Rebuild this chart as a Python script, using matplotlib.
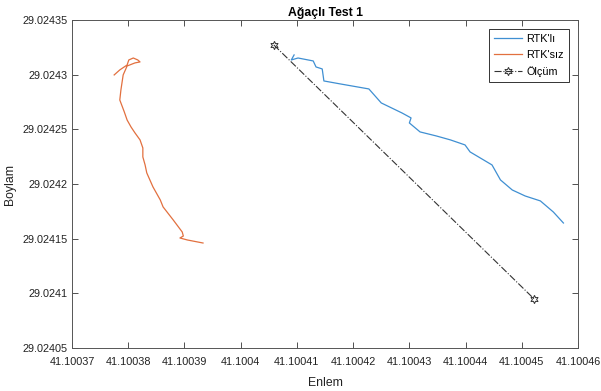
import matplotlib
matplotlib.use("Agg")
import matplotlib.pyplot as plt
from matplotlib.ticker import FuncFormatter, MultipleLocator

plt.rcParams["font.family"] = ["Liberation Sans", "DejaVu Sans"]

# RTK'lı iz
rtk_enlem = [41.1004095, 41.1004090, 41.1004102, 41.1004129, 41.1004134, 41.1004145,
             41.1004148, 41.1004177, 41.1004228, 41.1004250, 41.1004287, 41.1004303,
             41.1004300, 41.1004319, 41.1004348, 41.1004373, 41.1004399, 41.1004408,
             41.1004447, 41.1004462, 41.1004483, 41.1004506, 41.1004533, 41.1004556,
             41.1004574]
rtk_boylam = [29.0243180, 29.0243134, 29.0243152, 29.0243125, 29.0243070, 29.0243052,
              29.0242942, 29.0242915, 29.0242869, 29.0242741, 29.0242649, 29.0242604,
              29.0242558, 29.0242476, 29.0242439, 29.0242403, 29.0242357, 29.0242293,
              29.0242174, 29.0242037, 29.0241945, 29.0241890, 29.0241845, 29.0241744,
              29.0241643]

# RTK'sız iz
nortk_enlem = [41.1003775, 41.1003785, 41.1003798, 41.1003801, 41.1003809, 41.1003817,
               41.1003821, 41.1003812, 41.1003798, 41.1003791, 41.1003787, 41.1003785,
               41.1003793, 41.1003798, 41.1003805, 41.1003812, 41.1003821, 41.1003826,
               41.1003826, 41.1003830, 41.1003833, 41.1003844, 41.1003857, 41.1003862,
               41.1003880, 41.1003896, 41.1003898, 41.1003892, 41.1003905, 41.1003933]
nortk_boylam = [29.0242997, 29.0243043, 29.0243088, 29.0243134, 29.0243152, 29.0243134,
                29.0243116, 29.0243107, 29.0243079, 29.0242997, 29.0242860, 29.0242768,
                29.0242659, 29.0242585, 29.0242521, 29.0242467, 29.0242403, 29.0242329,
                29.0242247, 29.0242174, 29.0242101, 29.0241973, 29.0241854, 29.0241790,
                29.0241671, 29.0241561, 29.0241524, 29.0241506, 29.0241488, 29.0241460]

# Ölçüm (başlangıç ve bitiş)
olcum_enlem = [41.1004059, 41.1004522]
olcum_boylam = [29.0243271, 29.0240948]

MAVI, TURUNCU = "#3f8fd2", "#e2703f"


def fmt(v, _pos):
    s = "%.5f" % v
    return s.rstrip("0").rstrip(".")


fig = plt.figure(figsize=(6.01, 3.91), dpi=100)
ax = fig.add_axes([0.1198, 0.110, 0.842, 0.839])

ax.plot(rtk_enlem, rtk_boylam, color=MAVI, lw=0.9, label="RTK'lı")
ax.plot(nortk_enlem, nortk_boylam, color=TURUNCU, lw=0.9, label="RTK'sız")
ax.plot(olcum_enlem, olcum_boylam, color="#333333", ls="-.", lw=0.8,
        marker=(6, 1, 0), ms=6, mfc="none", mec="#333333", mew=0.7, label="Ölçüm")

ax.set_xlim(41.10037, 41.10046)
ax.set_ylim(29.02405, 29.02435)
ax.xaxis.set_major_locator(MultipleLocator(1e-5))
ax.yaxis.set_major_locator(MultipleLocator(5e-5))
ax.xaxis.set_major_formatter(FuncFormatter(fmt))
ax.yaxis.set_major_formatter(FuncFormatter(fmt))
ax.tick_params(direction="in", top=True, right=True, length=4, width=0.6,
               colors="#333333", labelsize=7.8, labelcolor="#222222")
ax.tick_params(axis="x", pad=6.5)
ax.tick_params(axis="y", pad=3)
for s in ax.spines.values():
    s.set_color("#555555")
    s.set_linewidth(0.7)

ax.set_xlabel("Enlem", fontsize=8.8, color="#222222", labelpad=7)
ax.set_ylabel("Boylam", fontsize=8.8, color="#222222", labelpad=5)
ax.set_title("Ağaçlı Test 1", fontsize=8.8, fontweight="bold", pad=3)

leg = ax.legend(loc="upper right", fontsize=7.8, fancybox=False, framealpha=1,
                edgecolor="#333333", handlelength=2.6, borderaxespad=0.8,
                labelspacing=0.55, handletextpad=0.4, borderpad=0.5)
leg.get_frame().set_linewidth(0.7)

fig.savefig("out.png", dpi=100)
